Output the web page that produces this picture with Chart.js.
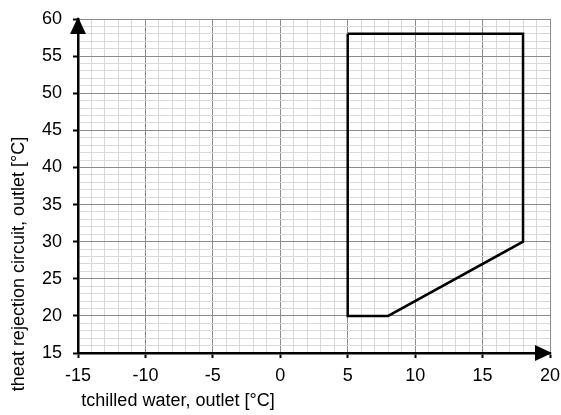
<!DOCTYPE html>
<html lang="en">
<head>
    <meta charset="UTF-8">
    <title>Operating range</title>
    <script src="https://cdn.jsdelivr.net/npm/chart.js"></script>
    <style>
        body {
            margin: 0;
            background-color: #fff;
        }
        #wrap {
            width: 561px;
            height: 415px;
        }
    </style>
</head>
<body>

<div id="wrap">
    <canvas id="envelope" width="561" height="415"></canvas>
</div>

<script>
// outline of the operating envelope (closed polygon)
const chilledOut = [5, 18, 18, 8, 5, 5];
const rejectOut  = [58, 58, 30, 20, 20, 58];

// axis ranges
const xRange = [-15, 20];
const yRange = [15, 60];
const majorStep = 5;

const xTitle = 'tchilled water, outlet [°C]';
const yTitle = 'theat rejection circuit, outlet [°C]';

const points = chilledOut.map((x, i) => ({ x: x, y: rejectOut[i] }));

const fontFamily = 'Arial, "Liberation Sans", sans-serif';

function isMajor(v) {
    return Math.round(v) % majorStep === 0;
}

// arrows on the axes and the two axis titles
const axisDecor = {
    id: 'axisDecor',
    afterDraw(chart) {
        const ctx = chart.ctx;
        const a = chart.chartArea;
        ctx.save();
        ctx.fillStyle = '#000';

        // up arrow on y axis
        ctx.beginPath();
        ctx.moveTo(a.left, a.top - 2);
        ctx.lineTo(a.left - 8, a.top + 15);
        ctx.lineTo(a.left + 8, a.top + 15);
        ctx.closePath();
        ctx.fill();

        // right arrow on x axis
        ctx.beginPath();
        ctx.moveTo(a.right + 2, a.bottom);
        ctx.lineTo(a.right - 15, a.bottom - 8);
        ctx.lineTo(a.right - 15, a.bottom + 8);
        ctx.closePath();
        ctx.fill();

        ctx.font = '18px ' + fontFamily;
        ctx.fillStyle = '#000';
        ctx.textBaseline = 'middle';
        ctx.textAlign = 'center';
        ctx.fillText(xTitle, 178, 401);

        ctx.translate(19, 264);
        ctx.rotate(-Math.PI / 2);
        ctx.fillText(yTitle, 0, 0);
        ctx.restore();
    }
};

const ctx = document.getElementById('envelope').getContext('2d');
new Chart(ctx, {
    type: 'scatter',
    data: {
        datasets: [{
            data: points,
            showLine: true,
            borderColor: '#000',
            borderWidth: 2.5,
            pointRadius: 0,
            fill: false,
            tension: 0
        }]
    },
    options: {
        responsive: false,
        animation: false,
        layout: {
            padding: { top: 19, right: 11, left: 0, bottom: 0 }
        },
        plugins: {
            legend: { display: false },
            tooltip: { enabled: false }
        },
        scales: {
            x: {
                type: 'linear',
                min: xRange[0],
                max: xRange[1],
                afterFit(scale) {
                    scale.height = 62;
                    scale.paddingLeft = 0;
                    scale.paddingRight = 0;
                },
                border: { color: '#000', width: 2.5 },
                grid: {
                    color: c => isMajor(c.tick.value) ? '#8c8c8c' : '#d9d9d9',
                    lineWidth: 1,
                    tickColor: c => isMajor(c.tick.value) ? '#000' : 'rgba(0,0,0,0)',
                    tickWidth: 2,
                    tickLength: 5
                },
                ticks: {
                    stepSize: 1,
                    autoSkip: false,
                    maxRotation: 0,
                    padding: 7,
                    color: '#000',
                    font: { family: fontFamily, size: 18 },
                    callback: v => isMajor(v) ? v : ''
                }
            },
            y: {
                type: 'linear',
                min: yRange[0],
                max: yRange[1],
                afterFit(scale) {
                    scale.width = 78;
                    scale.paddingTop = 0;
                    scale.paddingBottom = 0;
                },
                border: { color: '#000', width: 2.5 },
                grid: {
                    color: c => isMajor(c.tick.value) ? '#8c8c8c' : '#d9d9d9',
                    lineWidth: 1,
                    tickColor: c => isMajor(c.tick.value) ? '#000' : 'rgba(0,0,0,0)',
                    tickWidth: 2,
                    tickLength: 5
                },
                ticks: {
                    stepSize: 1,
                    autoSkip: false,
                    padding: 11,
                    color: '#000',
                    font: { family: fontFamily, size: 18 },
                    callback: v => isMajor(v) ? v : ''
                }
            }
        }
    },
    plugins: [axisDecor]
});
</script>

</body>
</html>
